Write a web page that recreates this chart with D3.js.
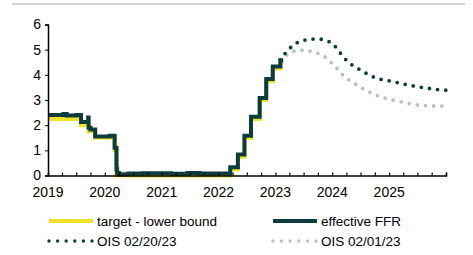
<!DOCTYPE html>
<html>
<head>
<meta charset="utf-8">
<script src="https://cdn.jsdelivr.net/npm/d3@7"></script>
<style>
  body { margin: 0; background: #fff; }
  svg { display: block; font-family: "Liberation Sans", Arial, sans-serif; }
</style>
</head>
<body>
<div id="chart"></div>
<script>
// fed funds target lower bound (change dates)
var targetDates = ["2019-01-01","2019-08-01","2019-09-19","2019-10-31","2020-03-04","2020-03-16",
  "2022-03-17","2022-05-05","2022-06-16","2022-07-28","2022-09-22","2022-11-03","2022-12-15","2023-02-02","2023-02-20"];
var targetVals = [2.25,2.00,1.75,1.50,1.00,0.00,0.25,0.75,1.50,2.25,3.00,3.75,4.25,4.50,4.50];

// effective FFR
var effrDates = ["2019-01-01","2019-04-10","2019-05-01","2019-07-01","2019-08-01","2019-09-16","2019-09-19","2019-10-01","2019-10-31",
  "2020-02-01","2020-03-04","2020-03-16","2020-03-20","2020-04-01","2020-06-01","2020-09-01","2021-03-01","2021-06-17","2021-09-01",
  "2022-01-01","2022-03-17","2022-05-05","2022-06-16","2022-07-28","2022-09-22","2022-11-03","2022-12-15","2023-02-02","2023-02-20"];
var effrVals = [2.40,2.44,2.38,2.40,2.13,2.30,1.90,1.83,1.55,
  1.58,1.10,0.25,0.10,0.05,0.08,0.09,0.07,0.10,0.08,
  0.08,0.33,0.83,1.58,2.33,3.08,3.83,4.33,4.58,4.58];

// OIS curves
var oisDates = ["2023-02-01","2023-03-01","2023-04-01","2023-05-01","2023-06-01","2023-07-01","2023-08-01","2023-09-01",
  "2023-10-01","2023-11-01","2023-12-01","2024-01-01","2024-02-01","2024-03-01","2024-04-01","2024-05-01","2024-06-01",
  "2024-07-01","2024-08-01","2024-09-01","2024-10-01","2024-11-01","2024-12-01","2025-01-01","2025-03-01","2025-05-01",
  "2025-07-01","2025-09-01","2025-11-01","2026-01-01"];
var ois0220 = [4.58,4.82,5.04,5.20,5.31,5.37,5.40,5.42,5.43,5.40,5.34,5.25,5.04,4.80,4.58,4.42,4.30,
  4.19,4.08,3.98,3.89,3.83,3.79,3.76,3.68,3.60,3.53,3.47,3.42,3.39];
var ois0201 = [4.58,4.72,4.86,4.94,4.97,4.98,4.96,4.91,4.85,4.77,4.64,4.45,4.25,4.04,3.87,3.74,3.62,
  3.50,3.40,3.30,3.21,3.14,3.08,3.03,2.95,2.87,2.80,2.77,2.76,2.76];

var yTicks = [0,1,2,3,4,5,6];
var yearTicks = ["2019","2020","2021","2022","2023","2024","2025"];
var legendNames = ["target - lower bound","effective FFR","OIS 02/20/23","OIS 02/01/23"];

var W = 473, H = 255;
var parse = d3.timeParse("%Y-%m-%d");
var yellow = "#efe32a", dark = "#0e3b3e", grey = "#b6c2c6";

var svg = d3.select("#chart").append("svg").attr("width", W).attr("height", H);

// grey rule at top
svg.append("line").attr("x1", 12).attr("x2", 465).attr("y1", 4).attr("y2", 4)
  .attr("stroke", "#c6c6c6").attr("stroke-width", 1.5);

var x = d3.scaleTime().domain([parse("2019-01-01"), parse("2026-01-01")]).range([48, 446]);
var y = d3.scaleLinear().domain([0, 6]).range([175.5, 24.5]);

function zip(ds, vs){ return ds.map(function(d, i){ return {date: parse(d), v: vs[i]}; }); }

var stepLine = d3.line().x(function(d){ return x(d.date); }).y(function(d){ return y(d.v); }).curve(d3.curveStepAfter);
var smoothLine = d3.line().x(function(d){ return x(d.date); }).y(function(d){ return y(d.v); }).curve(d3.curveMonotoneX);

// OIS dotted lines (drawn first, behind)
svg.append("path").datum(zip(oisDates, ois0201)).attr("d", smoothLine)
  .attr("fill", "none").attr("stroke", grey).attr("stroke-width", 3.8)
  .attr("stroke-linecap", "round").attr("stroke-dasharray", "0,8.2");
svg.append("path").datum(zip(oisDates, ois0220)).attr("d", smoothLine)
  .attr("fill", "none").attr("stroke", dark).attr("stroke-width", 3.8)
  .attr("stroke-linecap", "round").attr("stroke-dasharray", "0,8.2");

svg.append("path").datum(zip(targetDates, targetVals)).attr("d", stepLine)
  .attr("fill", "none").attr("stroke", yellow).attr("stroke-width", 4);
svg.append("path").datum(zip(effrDates, effrVals)).attr("d", stepLine)
  .attr("fill", "none").attr("stroke", dark).attr("stroke-width", 4);

// axes
var yAxis = d3.axisLeft(y).tickValues(yTicks).tickSize(3).tickPadding(4).tickFormat(d3.format("d"));
var gy = svg.append("g").attr("transform", "translate(48,0)").call(yAxis);
gy.select(".domain").attr("stroke", "#000").attr("stroke-width", 1.5);
gy.selectAll("text").attr("font-size", 14).attr("fill", "#000").attr("font-family", "Liberation Sans, Arial, sans-serif");

var quarters = d3.timeMonth.every(3).range(parse("2019-01-01"), parse("2026-01-02"));
var xAxis = d3.axisBottom(x).tickValues(quarters).tickSize(-3).tickFormat("");
var gx = svg.append("g").attr("transform", "translate(0,175.5)").call(xAxis);
gx.select(".domain").attr("stroke", "#000").attr("stroke-width", 1.5);
gx.selectAll(".tick line").attr("stroke", "#000").attr("stroke-width", 1.2);

svg.append("g").selectAll("text").data(yearTicks).enter().append("text")
  .attr("x", function(d){ return x(parse(d + "-01-01")); })
  .attr("y", 197)
  .attr("text-anchor", "middle")
  .attr("font-size", 14)
  .text(function(d){ return d; });

// legend
var leg = [
  {name: legendNames[0], color: yellow, dots: false, x: 48, y: 221},
  {name: legendNames[1], color: dark, dots: false, x: 272, y: 221},
  {name: legendNames[2], color: dark, dots: true, x: 48, y: 241},
  {name: legendNames[3], color: grey, dots: true, x: 272, y: 241}
];
var lg = svg.append("g").selectAll("g").data(leg).enter().append("g");
lg.append("line")
  .attr("x1", function(d){ return d.x + 1; }).attr("x2", function(d){ return d.x + 45; })
  .attr("y1", function(d){ return d.y; }).attr("y2", function(d){ return d.y; })
  .attr("stroke", function(d){ return d.color; })
  .attr("stroke-width", function(d){ return d.dots ? 3.4 : 4; })
  .attr("stroke-linecap", function(d){ return d.dots ? "round" : "butt"; })
  .attr("stroke-dasharray", function(d){ return d.dots ? "0,8.6" : null; });
lg.append("text")
  .attr("x", function(d){ return d.x + 49; })
  .attr("y", function(d){ return d.y + 4.5; })
  .attr("font-size", 13.5)
  .text(function(d){ return d.name; });
</script>
</body>
</html>
